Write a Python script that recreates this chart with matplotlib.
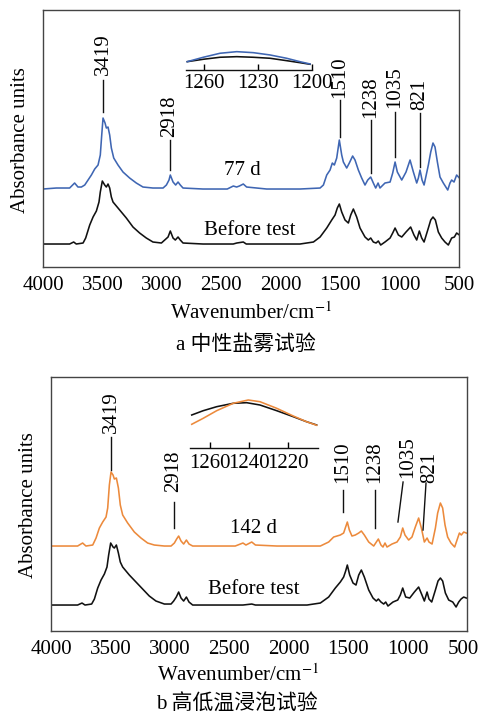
import matplotlib
matplotlib.use("Agg")
import matplotlib.pyplot as plt

plt.rcParams['font.family'] = ['Liberation Serif', 'Noto Sans CJK SC']
plt.rcParams['mathtext.fontset'] = 'stix'

# ---------------- Panel a: neutral salt spray ----------------
a_test_wn = [4000, 3888, 3776, 3734, 3706, 3677, 3649, 3621, 3593, 3565, 3537, 3518, 3506, 3495,
             3478, 3467, 3453, 3439, 3425, 3405, 3369, 3327, 3271, 3215, 3159, 3075, 2990, 2962,
             2940, 2929, 2906, 2884, 2864, 2845, 2822, 2654, 2450, 2399, 2371, 2348, 2315, 2287,
             2118, 1838, 1669, 1641, 1613, 1585, 1566, 1549, 1529, 1507, 1487, 1473, 1445, 1423,
             1395, 1375, 1347, 1319, 1291, 1268, 1243, 1221, 1201, 1181, 1165, 1123, 1080, 1058,
             1038, 1019, 982, 946, 912, 884, 856, 842, 828, 811, 794, 758, 738, 719, 702, 682,
             660, 632, 595, 576, 562, 542, 520, 497]
a_test_ab = [0.78, 0.79, 0.79, 0.84, 0.80, 0.80, 0.82, 0.87, 0.92, 0.98, 1.02, 1.12, 1.32, 1.49,
             1.44, 1.39, 1.40, 1.32, 1.19, 1.09, 1.02, 0.95, 0.89, 0.84, 0.80, 0.79, 0.79, 0.82,
             0.87, 0.92, 0.85, 0.82, 0.85, 0.82, 0.79, 0.78, 0.78, 0.81, 0.80, 0.81, 0.83, 0.80,
             0.78, 0.78, 0.79, 0.82, 0.92, 0.97, 1.04, 1.02, 1.09, 1.27, 1.12, 1.05, 0.99, 1.04,
             1.11, 1.07, 0.97, 0.89, 0.82, 0.87, 0.90, 0.84, 0.79, 0.84, 0.79, 0.84, 0.85, 0.94,
             1.05, 0.95, 0.87, 0.95, 1.07, 0.95, 0.84, 0.89, 0.97, 0.87, 0.82, 1.02, 1.15, 1.24,
             1.20, 1.05, 0.90, 0.84, 0.77, 0.84, 0.87, 0.85, 0.92, 0.89]

a_before_wn = [4000, 3776, 3742, 3720, 3663, 3641, 3607, 3579, 3551, 3529, 3518, 3501, 3481, 3467,
               3453, 3439, 3425, 3411, 3355, 3299, 3243, 3187, 3131, 3075, 3004, 2976, 2948, 2929,
               2906, 2887, 2864, 2845, 2822, 2654, 2400, 2370, 2315, 2290, 2100, 1838, 1725, 1669,
               1613, 1571, 1543, 1524, 1507, 1487, 1459, 1431, 1411, 1389, 1361, 1333, 1291, 1263,
               1243, 1221, 1198, 1179, 1159, 1123, 1080, 1058, 1038, 1010, 982, 946, 907, 879,
               856, 834, 814, 794, 758, 738, 719, 699, 674, 646, 618, 590, 562, 539, 520, 497]
a_before_ab = [0.23, 0.23, 0.25, 0.23, 0.24, 0.29, 0.42, 0.50, 0.56, 0.65, 0.75, 0.86, 0.82, 0.80,
               0.83, 0.79, 0.70, 0.65, 0.57, 0.49, 0.40, 0.34, 0.29, 0.25, 0.24, 0.27, 0.30, 0.36,
               0.29, 0.27, 0.30, 0.27, 0.24, 0.23, 0.23, 0.24, 0.25, 0.23, 0.23, 0.23, 0.25, 0.30,
               0.39, 0.47, 0.52, 0.59, 0.63, 0.55, 0.47, 0.44, 0.52, 0.58, 0.50, 0.39, 0.30, 0.27,
               0.29, 0.25, 0.24, 0.26, 0.22, 0.25, 0.29, 0.34, 0.39, 0.32, 0.30, 0.35, 0.40, 0.32,
               0.27, 0.36, 0.29, 0.25, 0.39, 0.47, 0.50, 0.47, 0.35, 0.29, 0.25, 0.22, 0.29, 0.30,
               0.34, 0.32]

a_inset_wn = [1269.3, 1260.4, 1251.1, 1241.8, 1232.6, 1223.3, 1214.1, 1206.7, 1201.1]
a_inset_test = [0.083, 0.127, 0.167, 0.183, 0.173, 0.150, 0.117, 0.083, 0.060]
a_inset_before = [0.083, 0.107, 0.127, 0.133, 0.127, 0.117, 0.093, 0.073, 0.057]
a_inset_ticks = [1260, 1230, 1200]

# ---------------- Panel b: high/low temperature immersion ----------------
b_test_wn = [4000, 3776, 3734, 3706, 3649, 3621, 3593, 3565, 3537, 3523, 3509, 3495, 3478, 3467,
             3450, 3433, 3417, 3397, 3355, 3299, 3243, 3187, 3131, 3046, 2990, 2962, 2943, 2926,
             2906, 2884, 2861, 2839, 2808, 2654, 2450, 2385, 2360, 2311, 2280, 2100, 1846, 1734,
             1664, 1622, 1594, 1566, 1538, 1524, 1507, 1490, 1468, 1440, 1411, 1389, 1364, 1327,
             1285, 1263, 1246, 1224, 1207, 1190, 1173, 1131, 1089, 1061, 1041, 1022, 991, 963,
             935, 907, 884, 859, 836, 820, 794, 766, 747, 724, 705, 685, 663, 635, 604, 584,
             564, 548, 528, 506]
b_test_ab = [0.85, 0.85, 0.88, 0.85, 0.86, 0.93, 1.03, 1.09, 1.14, 1.23, 1.46, 1.59, 1.56, 1.52,
             1.53, 1.43, 1.26, 1.16, 1.08, 0.99, 0.93, 0.88, 0.86, 0.85, 0.85, 0.88, 0.92, 0.95,
             0.90, 0.87, 0.91, 0.87, 0.85, 0.85, 0.85, 0.88, 0.86, 0.89, 0.86, 0.85, 0.85, 0.85,
             0.89, 0.94, 0.95, 0.96, 0.98, 1.03, 1.09, 1.01, 0.95, 0.96, 0.98, 1.00, 0.96, 0.89,
             0.85, 0.89, 0.92, 0.86, 0.84, 0.88, 0.84, 0.87, 0.89, 0.94, 1.03, 0.96, 0.91, 0.94,
             1.04, 1.13, 1.03, 0.89, 0.93, 0.89, 0.87, 1.03, 1.18, 1.28, 1.23, 1.06, 0.94, 0.88,
             0.84, 0.91, 0.98, 0.96, 0.99, 0.98]

b_before_wn = [4000, 3776, 3739, 3714, 3658, 3635, 3607, 3579, 3551, 3529, 3515, 3498, 3478, 3467,
               3450, 3433, 3417, 3397, 3341, 3285, 3229, 3173, 3117, 3046, 2990, 2968, 2946, 2926,
               2906, 2884, 2861, 2839, 2808, 2654, 2450, 2385, 2311, 2280, 2100, 1846, 1734, 1664,
               1608, 1566, 1538, 1521, 1507, 1487, 1459, 1434, 1411, 1389, 1364, 1327, 1291, 1263,
               1246, 1224, 1201, 1184, 1165, 1123, 1083, 1061, 1041, 1016, 982, 943, 907, 879,
               859, 836, 820, 797, 766, 744, 724, 705, 682, 654, 620, 592, 570, 550, 528, 506]
b_before_ab = [0.26, 0.26, 0.28, 0.26, 0.27, 0.32, 0.43, 0.51, 0.57, 0.64, 0.76, 0.88, 0.84, 0.83,
               0.86, 0.78, 0.69, 0.64, 0.56, 0.49, 0.42, 0.35, 0.30, 0.27, 0.27, 0.30, 0.34, 0.39,
               0.33, 0.30, 0.34, 0.29, 0.26, 0.26, 0.26, 0.26, 0.27, 0.26, 0.26, 0.26, 0.28, 0.34,
               0.43, 0.49, 0.54, 0.60, 0.66, 0.56, 0.48, 0.46, 0.56, 0.61, 0.54, 0.41, 0.33, 0.30,
               0.32, 0.29, 0.27, 0.29, 0.25, 0.29, 0.31, 0.36, 0.43, 0.34, 0.33, 0.39, 0.44, 0.36,
               0.30, 0.39, 0.32, 0.29, 0.41, 0.50, 0.53, 0.50, 0.38, 0.31, 0.29, 0.24, 0.29, 0.32,
               0.34, 0.33]

b_inset_wn_before = [1269.4, 1263.5, 1256.6, 1248.1, 1241.2, 1234.4, 1225.8, 1217.3, 1210.5, 1205.3]
b_inset_before = [0.330, 0.373, 0.413, 0.447, 0.453, 0.430, 0.373, 0.313, 0.263, 0.230]
b_inset_wn_test = [1269.4, 1263.5, 1256.6, 1248.1, 1240.4, 1234.4, 1225.8, 1217.3, 1210.5, 1205.3]
b_inset_test = [0.237, 0.297, 0.373, 0.447, 0.480, 0.463, 0.397, 0.320, 0.263, 0.227]
b_inset_ticks = [1260, 1240, 1220]

main_ticks = [4000, 3500, 3000, 2500, 2000, 1500, 1000, 500]
main_tick_labels = ['4000', '3500', '3000', '2500', '2000', '1500', '1000', '500']

# annotations: (label, text x, text y, line x0, y0, x1, y1)
a_peaks = [("3419", 3495, 2.13, 3495, 1.87, 3495, 1.55),
           ("2918", 2932, 1.51, 2932, 1.27, 2932, 0.97),
           ("1510", 1501, 1.90, 1501, 1.67, 1501, 1.30),
           ("1238", 1240, 1.70, 1240, 1.47, 1240, 0.94),
           ("1035", 1038, 1.80, 1038, 1.55, 1038, 1.10),
           ("821", 828, 1.73, 828, 1.54, 828, 1.00)]
b_peaks = [("3419", 3495, 2.185, 3495, 1.94, 3495, 1.61),
           ("2918", 2965, 1.60, 2965, 1.29, 2965, 1.03),
           ("1510", 1543, 1.685, 1543, 1.41, 1543, 1.19),
           ("1238", 1274, 1.685, 1274, 1.41, 1274, 1.03),
           ("1035", 997, 1.74, 1038, 1.49, 1081, 1.09),
           ("821", 811, 1.64, 845, 1.48, 870, 1.01)]

BLUE = '#3f66b3'
ORANGE = '#ec8a3c'
BLACK = '#111111'
FS = 15

fig = plt.figure(figsize=(4.8, 7.17), dpi=100)


def panel(rect, test_wn, test_ab, before_wn, before_ab, color, ymax, peaks,
          day_label, day_pos, before_pos, last_shift=0):
    ax = fig.add_axes(rect)
    ax.plot(before_wn, before_ab, color=BLACK, lw=1.15)
    ax.plot(test_wn, test_ab, color=color, lw=1.15)
    ax.set_xlim(4000, 500)
    ax.set_ylim(0, ymax)
    ax.set_xticks(main_ticks)
    labels = list(main_tick_labels)
    if last_shift:
        labels[-1] = ''
        ax.annotate(main_tick_labels[-1], xy=(main_ticks[-1], 0),
                    xycoords=('data', 'axes fraction'),
                    xytext=(last_shift, -6.5), textcoords='offset points',
                    ha='center', va='top', fontsize=FS)
    ax.set_xticklabels(labels)
    ax.set_yticks([])
    ax.tick_params(axis='x', length=0, pad=6.5, labelsize=FS)
    for s in ax.spines.values():
        s.set_color('#444444')
        s.set_linewidth(1.0)
    for lab, tx, ty, x0, y0, x1, y1 in peaks:
        ax.text(tx, ty, lab, rotation=90, ha='center', va='center', fontsize=FS)
        ax.plot([x0, x1], [y0, y1], color=BLACK, lw=1.0)
    ax.text(day_pos[0], day_pos[1], day_label, ha='center', va='center', fontsize=FS)
    ax.text(before_pos[0], before_pos[1], 'Before test', ha='center', va='center', fontsize=FS)
    return ax


def inset(rect, xlim, ylim, ticks, curves, pad):
    ax = fig.add_axes(rect)
    ax.patch.set_alpha(0)
    for wn, ab, c in curves:
        ax.plot(wn, ab, color=c, lw=1.15)
    ax.set_xlim(*xlim)
    ax.set_ylim(*ylim)
    ax.set_xticks(ticks)
    ax.set_yticks([])
    for k in ('top', 'left', 'right'):
        ax.spines[k].set_visible(False)
    ax.spines['bottom'].set_linewidth(1.0)
    ax.spines['bottom'].set_color(BLACK)
    ax.tick_params(axis='x', direction='in', length=4, width=1.0, pad=pad, labelsize=FS)
    return ax


panel([0.0896, 0.6276, 0.8667, 0.3584], a_test_wn, a_test_ab, a_before_wn, a_before_ab,
      BLUE, 2.57, a_peaks, '77 d', (2326, 0.97), (2258, 0.37))
inset([0.3875, 0.9024, 0.2625, 0.0349], (1270, 1200), (0, 0.25), a_inset_ticks,
      [(a_inset_wn, a_inset_before, BLACK), (a_inset_wn, a_inset_test, BLUE)], 3)

panel([0.10625, 0.1199, 0.8667, 0.3543], b_test_wn, b_test_ab, b_before_wn, b_before_ab,
      ORANGE, 2.54, b_peaks, '142 d', (2300, 1.03), (2292, 0.42), last_shift=-2.5)
inset([0.3958, 0.3752, 0.2667, 0.0739], (1270.3, 1204.6), (0, 0.53), b_inset_ticks,
      [(b_inset_wn_before, b_inset_before, BLACK), (b_inset_wn_test, b_inset_test, ORANGE)], 4.3)

# axis labels and captions
fig.text(21 / 480, 1 - 140 / 717, 'Absorbance units', rotation=90, ha='center', va='center', fontsize=FS)
fig.text(29 / 480, 1 - 505 / 717, 'Absorbance units', rotation=90, ha='center', va='center', fontsize=FS)
fig.text(251 / 480, 1 - 313 / 717, 'Wavenumber/cm$^{-1}$', ha='center', va='center', fontsize=FS)
fig.text(238 / 480, 1 - 675 / 717, 'Wavenumber/cm$^{-1}$', ha='center', va='center', fontsize=FS)
fig.text(246 / 480, 1 - 345 / 717, 'a 中性盐雾试验', ha='center', va='center', fontsize=FS)
fig.text(237 / 480, 1 - 705 / 717, 'b 高低温浸泡试验', ha='center', va='center', fontsize=FS)

fig.savefig('out.png', dpi=100)
